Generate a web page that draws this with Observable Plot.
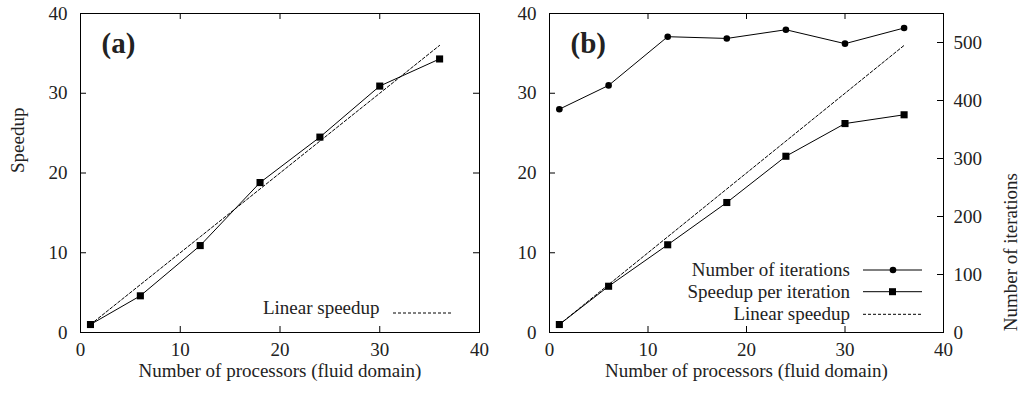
<!DOCTYPE html>
<html><head><meta charset="utf-8">
<script src="https://cdn.jsdelivr.net/npm/d3@7"></script>
<script src="https://cdn.jsdelivr.net/npm/@observablehq/plot@0.6"></script>
<style>
body{margin:0;background:#fff}
#wrap{display:flex;width:1029px;height:394px}
svg{display:block}
</style>
</head><body><div id="wrap"></div>
<script>
// ---- data ----
const processors = [1, 6, 12, 18, 24, 30, 36];
const speedupA = [1.0, 4.6, 10.9, 18.8, 24.5, 30.9, 34.3];
const speedupPerIterB = [1.0, 5.8, 11.0, 16.3, 22.1, 26.2, 27.3];
const iterationsB = [385, 426, 510, 507, 522, 498, 525];
const xTicks = [0, 10, 20, 30, 40];
const yTicks = [0, 10, 20, 30, 40];
const iterTicks = [0, 100, 200, 300, 400, 500];
const iterMax = 550;
const speedMax = 40;
const legendA = ["Linear speedup"];
const legendB = ["Number of iterations", "Speedup per iteration", "Linear speedup"];

const FONT = "'Liberation Serif', 'Times New Roman', serif";
const TXT = "#222";
const f = speedMax / iterMax;

const rowsA = processors.map((p, i) => ({p, s: speedupA[i]}));
const rowsB = processors.map((p, i) => ({p, s: speedupPerIterB[i], it: iterationsB[i] * f}));

function baseMarks(W, H, mt, mb, ml, mr) {
  const fw = W - ml - mr, fh = H - mt - mb;
  const inner = xTicks.slice(1, -1), innerY = yTicks.slice(1, -1);
  return [
    Plot.frame({stroke: "black", strokeWidth: 1}),
    Plot.ruleX(inner, {x: d => d, insetTop: fh - 6, stroke: "black"}),
    Plot.ruleX(inner, {x: d => d, insetBottom: fh - 6, stroke: "black"}),
    Plot.ruleY(innerY, {y: d => d, insetRight: fw - 6, stroke: "black"}),
    Plot.axisX(xTicks, {tickSize: 0, tickPadding: 10, label: null, fill: TXT}),
    Plot.axisY(yTicks, {tickSize: 0, tickPadding: 13, label: null, fill: TXT}),
    Plot.text(["Number of processors (fluid domain)"], {frameAnchor: "bottom", dy: 44, fill: TXT})
  ];
}

// ---- Panel (a) ----
{
  const W = 500, H = 394, mt = 13, mb = 62, ml = 80, mr = 21;
  const fw = W - ml - mr;
  const svg = Plot.plot({
    width: W, height: H, marginTop: mt, marginBottom: mb, marginLeft: ml, marginRight: mr,
    style: {fontFamily: FONT, fontSize: "19px", color: TXT, background: "white", overflow: "visible"},
    x: {domain: [0, 40]},
    y: {domain: [0, speedMax]},
    marks: [
      ...baseMarks(W, H, mt, mb, ml, mr),
      Plot.ruleY(yTicks.slice(1, -1), {y: d => d, insetLeft: fw - 6, stroke: "black"}),
      Plot.text(["Speedup"], {frameAnchor: "left", dx: -63, rotate: -90, fill: TXT}),
      Plot.line(processors, {x: d => d, y: d => d, stroke: "black", strokeWidth: 1, strokeDasharray: "3,2"}),
      Plot.line(rowsA, {x: "p", y: "s", stroke: "black", strokeWidth: 1}),
      Plot.dot(rowsA, {x: "p", y: "s", symbol: "square", r: 4, fill: "black"}),
      Plot.text(["(a)"], {frameAnchor: "top-left", dx: 21, dy: 19, textAnchor: "start", lineAnchor: "top", fontSize: 29, fontWeight: "bold", fill: TXT}),
      Plot.text(legendA, {frameAnchor: "bottom-right", dx: -100, dy: -19, textAnchor: "end", fill: TXT})
    ]
  });
  d3.select(svg).append("line").attr("x1", 393).attr("x2", 452).attr("y1", 313).attr("y2", 313)
    .attr("stroke", "black").attr("stroke-dasharray", "3,2");
  document.getElementById("wrap").append(svg);
}

// ---- Panel (b) ----
{
  const W = 529, H = 394, mt = 13, mb = 62, ml = 49, mr = 86;
  const fw = W - ml - mr;
  const itScaled = iterTicks.map(t => t * f);
  const svg = Plot.plot({
    width: W, height: H, marginTop: mt, marginBottom: mb, marginLeft: ml, marginRight: mr,
    style: {fontFamily: FONT, fontSize: "19px", color: TXT, background: "white", overflow: "visible"},
    x: {domain: [0, 40]},
    y: {domain: [0, speedMax]},
    marks: [
      ...baseMarks(W, H, mt, mb, ml, mr),
      Plot.ruleY(itScaled.slice(1), {y: d => d, insetLeft: fw - 6, stroke: "black"}),
      Plot.axisY(itScaled, {anchor: "right", tickSize: 0, tickPadding: 10, label: null, fill: TXT,
        tickFormat: d => String(Math.round(d / f))}),
      Plot.text(["Number of iterations"], {frameAnchor: "right", dx: 67, rotate: -90, fill: TXT}),
      Plot.line(processors, {x: d => d, y: d => d, stroke: "black", strokeWidth: 1, strokeDasharray: "3,2"}),
      Plot.line(rowsB, {x: "p", y: "s", stroke: "black", strokeWidth: 1}),
      Plot.dot(rowsB, {x: "p", y: "s", symbol: "square", r: 4, fill: "black"}),
      Plot.line(rowsB, {x: "p", y: "it", stroke: "black", strokeWidth: 1}),
      Plot.dot(rowsB, {x: "p", y: "it", r: 3.3, fill: "black"}),
      Plot.text(["(b)"], {frameAnchor: "top-left", dx: 21, dy: 19, textAnchor: "start", lineAnchor: "top", fontSize: 29, fontWeight: "bold", fill: TXT})
    ]
  });
  const g = d3.select(svg).append("g");
  const ys = [270, 291.7, 314.3];
  legendB.forEach((t, i) => {
    g.append("text").attr("x", 350).attr("y", ys[i]).attr("dy", "0.32em").attr("text-anchor", "end")
      .attr("fill", TXT).attr("font-family", FONT).attr("font-size", 19).text(t);
    const ln = g.append("line").attr("x1", 363).attr("x2", 422).attr("y1", ys[i]).attr("y2", ys[i]).attr("stroke", "black");
    if (i === 2) ln.attr("stroke-dasharray", "3,2");
  });
  g.append("circle").attr("cx", 393).attr("cy", ys[0]).attr("r", 3.3).attr("fill", "black");
  g.append("rect").attr("x", 389).attr("y", ys[1] - 3.5).attr("width", 7).attr("height", 7).attr("fill", "black");
  document.getElementById("wrap").append(svg);
}
</script>
</body></html>
